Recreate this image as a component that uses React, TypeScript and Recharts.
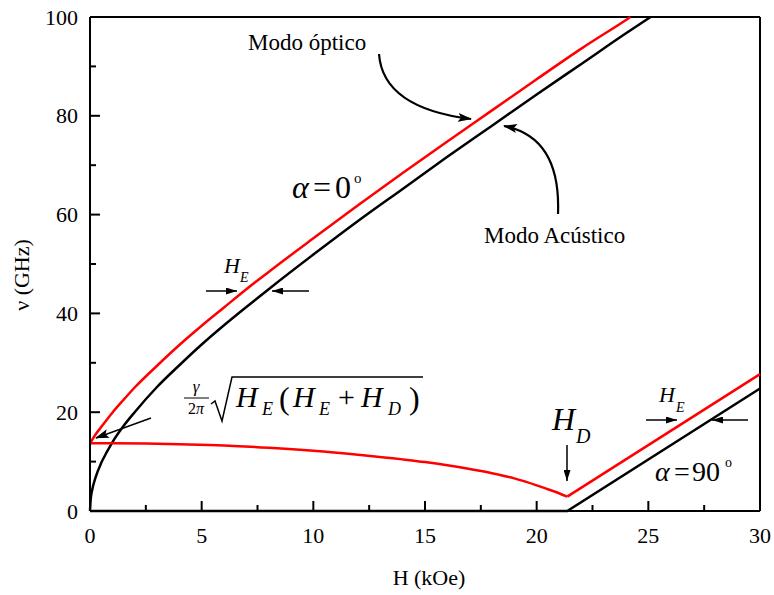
import { LineChart, Line, XAxis, YAxis, ReferenceLine } from "recharts";

type Pt = { h: number; v: number };

const SERIF = "Liberation Serif, Times New Roman, Times, DejaVu Serif, Noto Serif, serif";

// field values H (kOe) and frequencies ν (GHz) of each branch
const acousticH0 = [0, 0.03, 0.1, 0.25, 0.5, 0.75, 1, 1.5, 2, 3, 4, 5, 6, 7, 8, 10, 12, 14, 16, 18, 20, 22, 24, 25.1];
const acousticV0 = [0, 2.3, 4.3, 6.8, 9.7, 11.9, 13.9, 17.2, 20.0, 25.1, 29.5, 33.7, 37.6, 41.3, 44.9, 51.9, 58.7, 65.2, 71.7, 78.0, 84.3, 90.5, 96.7, 100];

const opticalH0 = [0, 0.25, 0.5, 1, 1.5, 2, 3, 4, 5, 6, 7, 8, 10, 12, 14, 16, 18, 20, 22, 24, 24.2];
const opticalV0 = [13.7, 15.5, 17.0, 19.9, 22.5, 25.0, 29.4, 33.6, 37.5, 41.2, 44.9, 48.4, 55.2, 61.9, 68.4, 74.8, 81.1, 87.4, 93.6, 99.4, 100];

const acousticH90 = [0, 21.37, 30];
const acousticV90 = [0, 0, 24.8];

// α = 90° optical mode: curved branch below H_D, straight branch above it
const opticalLowH90 = [0, 1, 2.5, 4, 6, 8, 10, 12, 14, 15, 16, 17, 18, 19, 20, 20.5, 21, 21.37];
const opticalLowV90 = [13.7, 13.7, 13.65, 13.5, 13.25, 12.8, 12.2, 11.4, 10.45, 9.9, 9.25, 8.5, 7.65, 6.6, 5.2, 4.4, 3.6, 2.9];
const opticalHighH90 = [21.37, 30];
const opticalHighV90 = [2.9, 27.7];

const xTicks = [0, 2.5, 5, 7.5, 10, 12.5, 15, 17.5, 20, 22.5, 25, 27.5, 30];
const yTicks = [0, 10, 20, 30, 40, 50, 60, 70, 80, 90, 100];

const zip = (hs: number[], vs: number[]): Pt[] => hs.map((h, i) => ({ h, v: vs[i] }));

const acoustic0 = zip(acousticH0, acousticV0);
const optical0 = zip(opticalH0, opticalV0);
const acoustic90 = zip(acousticH90, acousticV90);
const opticalLow90 = zip(opticalLowH90, opticalLowV90);
const opticalHigh90 = zip(opticalHighH90, opticalHighV90);

// inward ticks: major ones labelled, minor ones shorter
function XTick({ x, y, payload }: any) {
  const major = payload.value % 5 === 0;
  return (
    <g>
      <line x1={x} y1={y} x2={x} y2={y - (major ? 10 : 6)} stroke="#000" strokeWidth={2} />
      {major && (
        <text x={x} y={y + 32} textAnchor="middle" fontSize={22} style={{ fontFamily: SERIF }} fill="#000">
          {payload.value}
        </text>
      )}
    </g>
  );
}

function YTick({ x, y, payload }: any) {
  const major = payload.value % 20 === 0;
  return (
    <g>
      <line x1={x} y1={y} x2={x + (major ? 10 : 6)} y2={y} stroke="#000" strokeWidth={2} />
      {major && (
        <text x={x - 12} y={y + 7.5} textAnchor="end" fontSize={22} style={{ fontFamily: SERIF }} fill="#000">
          {payload.value}
        </text>
      )}
    </g>
  );
}

function Annotations() {
  const t = { style: { fontFamily: SERIF }, fill: "#000" } as const;
  const it = { style: { fontFamily: SERIF, fontStyle: "italic" }, fill: "#000" } as const;
  return (
    <svg
      width={774}
      height={595}
      style={{ position: "absolute", left: 0, top: 0, pointerEvents: "none" }}
    >
      <defs>
        <marker id="big" markerUnits="userSpaceOnUse" markerWidth={14} markerHeight={9} refX={13} refY={4.5} orient="auto">
          <path d="M0,0 L14,4.5 L0,9 L3,4.5 z" fill="#000" />
        </marker>
        <marker id="small" markerUnits="userSpaceOnUse" markerWidth={11} markerHeight={7} refX={11} refY={3.5} orient="auto">
          <path d="M0,0 L11,3.5 L0,7 z" fill="#000" />
        </marker>
      </defs>

      {/* mode labels with curved pointers */}
      <text x={248} y={50} fontSize={23} {...t}>Modo óptico</text>
      <path d="M379,54 Q383,108 471,119" fill="none" stroke="#000" strokeWidth={2.2} markerEnd="url(#big)" />
      <text x={484} y={243} fontSize={23} {...t}>Modo Acústico</text>
      <path d="M558,214 Q561,137 504,126" fill="none" stroke="#000" strokeWidth={2.2} markerEnd="url(#big)" />

      {/* α = 0° */}
      <text x={292} y={198} fontSize={32} {...it}>α</text>
      <text x={313} y={198} fontSize={32} {...t}>=</text>
      <text x={335} y={198} fontSize={32} {...t}>0</text>
      <text x={354} y={183} fontSize={15} {...t}>o</text>

      {/* H_E gap, α = 0° */}
      <text x={224} y={273} fontSize={22} {...it}>H</text>
      <text x={240} y={282} fontSize={14} {...it}>E</text>
      <line x1={206} y1={291} x2={237} y2={291} stroke="#000" strokeWidth={1.5} markerEnd="url(#small)" />
      <line x1={309} y1={291} x2={272} y2={291} stroke="#000" strokeWidth={1.5} markerEnd="url(#small)" />

      {/* zero-field gap expression */}
      <text x={196} y={392} fontSize={17} textAnchor="middle" {...it}>γ</text>
      <line x1={184} y1={398} x2={209} y2={398} stroke="#000" strokeWidth={1} />
      <text x={196} y={414} fontSize={16} textAnchor="middle" {...t}>
        2<tspan fontStyle="italic">π</tspan>
      </text>
      <path d="M211,404 L215,401 L222,421 L232,377 L423,377" fill="none" stroke="#000" strokeWidth={1.5} />
      <text x={236} y={407} fontSize={30} {...it}>H</text>
      <text x={262} y={415} fontSize={18} {...it}>E</text>
      <text x={279} y={409} fontSize={32} {...t}>(</text>
      <text x={293} y={407} fontSize={30} {...it}>H</text>
      <text x={319} y={415} fontSize={18} {...it}>E</text>
      <text x={338} y={407} fontSize={30} {...t}>+</text>
      <text x={361} y={407} fontSize={30} {...it}>H</text>
      <text x={388} y={415} fontSize={18} {...it}>D</text>
      <text x={409} y={409} fontSize={32} {...t}>)</text>
      <line x1={151} y1={418} x2={96} y2={438} stroke="#000" strokeWidth={1.5} markerEnd="url(#big)" />

      {/* H_D */}
      <text x={552} y={430} fontSize={32} {...it}>H</text>
      <text x={576} y={443} fontSize={20} {...it}>D</text>
      <line x1={567} y1={445} x2={567} y2={481} stroke="#000" strokeWidth={1.5} markerEnd="url(#small)" />

      {/* H_E gap, α = 90° */}
      <text x={659} y={402} fontSize={22} {...it}>H</text>
      <text x={676} y={412} fontSize={14} {...it}>E</text>
      <line x1={646} y1={420} x2={677} y2={420} stroke="#000" strokeWidth={1.5} markerEnd="url(#small)" />
      <line x1={748} y1={420} x2={712} y2={420} stroke="#000" strokeWidth={1.5} markerEnd="url(#small)" />

      {/* α = 90° */}
      <text x={655} y={481} fontSize={28} {...it}>α</text>
      <text x={674} y={481} fontSize={28} {...t}>=</text>
      <text x={692} y={481} fontSize={28} {...t}>90</text>
      <text x={725} y={467} fontSize={14} {...t}>o</text>

      {/* axis titles */}
      <text x={429} y={585} fontSize={22} textAnchor="middle" {...t}>H (kOe)</text>
      <text
        x={29}
        y={275}
        fontSize={22}
        textAnchor="middle"
        transform="rotate(-90 29 275)"
        {...t}
      >
        ν (GHz)
      </text>
    </svg>
  );
}

export default function App() {
  return (
    <div style={{ position: "absolute", left: 0, top: 0, width: 774, height: 595, background: "#fff" }}>
      <LineChart width={774} height={595} margin={{ top: 17, right: 14, bottom: 0, left: 0 }}>
        <XAxis
          dataKey="h"
          type="number"
          domain={[0, 30]}
          ticks={xTicks}
          interval={0}
          height={84}
          tickSize={0}
          tickMargin={0}
          tickLine={false}
          axisLine={{ stroke: "#000", strokeWidth: 2 }}
          tick={<XTick />}
        />
        <YAxis
          dataKey="v"
          type="number"
          domain={[0, 100]}
          ticks={yTicks}
          interval={0}
          width={90}
          tickSize={0}
          tickMargin={0}
          tickLine={false}
          axisLine={{ stroke: "#000", strokeWidth: 2 }}
          tick={<YTick />}
        />
        <ReferenceLine y={100} stroke="#000" strokeWidth={2} />
        <ReferenceLine x={30} stroke="#000" strokeWidth={2} />
        <Line data={acoustic0} dataKey="v" type="monotone" stroke="#000" strokeWidth={2.5} dot={false} isAnimationActive={false} />
        <Line data={acoustic90} dataKey="v" type="linear" stroke="#000" strokeWidth={2.5} dot={false} isAnimationActive={false} />
        <Line data={optical0} dataKey="v" type="monotone" stroke="#ff0000" strokeWidth={2.5} dot={false} isAnimationActive={false} />
        <Line data={opticalLow90} dataKey="v" type="monotone" stroke="#ff0000" strokeWidth={2.5} dot={false} isAnimationActive={false} />
        <Line data={opticalHigh90} dataKey="v" type="linear" stroke="#ff0000" strokeWidth={2.5} dot={false} isAnimationActive={false} />
      </LineChart>
      <Annotations />
    </div>
  );
}
